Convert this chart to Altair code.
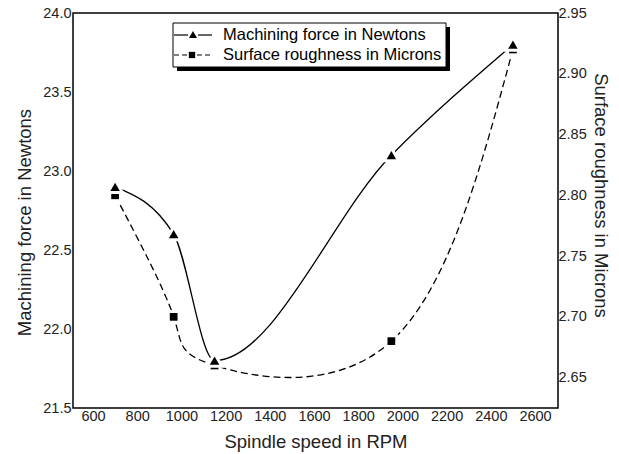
import altair as alt
import pandas as pd

# ---- data ----
rpm = [700, 965, 1150, 1950, 2500]
force = [22.9, 22.6, 21.8, 23.1, 23.8]
roughness = [2.80, 2.70, 2.66, 2.68, 2.92]

x_ticks = [600, 800, 1000, 1200, 1400, 1600, 1800, 2000, 2200, 2400, 2600]
force_ticks = [21.5, 22.0, 22.5, 23.0, 23.5, 24.0]
rough_ticks = [2.65, 2.70, 2.75, 2.80, 2.85, 2.90, 2.95]
series = ["Machining force in Newtons", "Surface roughness in Microns"]

df = pd.DataFrame({"rpm": rpm, "force": force, "roughness": roughness})
one = pd.DataFrame({"k": [0]})

FONT = "Liberation Sans"
W, H = 485, 395

x_enc = alt.X(
    "rpm:Q",
    scale=alt.Scale(domain=[509.5, 2704], nice=False, zero=False),
    axis=alt.Axis(values=x_ticks, format="d", title="Spindle speed in RPM",
                  labelPadding=1, titleY=39, titleBaseline="alphabetic"),
)

y_force = alt.Y(
    "force:Q",
    scale=alt.Scale(domain=[21.5, 24.0], nice=False, zero=False),
    axis=alt.Axis(values=force_ticks, format=".1f", orient="left",
                  title="Machining force in Newtons", labelPadding=2,
                  titleX=-43, titleY=209, titleAngle=270,
                  titleBaseline="alphabetic", titleAlign="center"),
)

y_rough = alt.Y(
    "roughness:Q",
    scale=alt.Scale(domain=[2.625, 2.95], nice=False, zero=False),
    axis=alt.Axis(values=rough_ticks, format=".2f", orient="right",
                  title="Surface roughness in Microns", labelPadding=0,
                  titleX=36, titleY=182, titleAngle=90,
                  titleBaseline="alphabetic", titleAlign="center"),
)

base = alt.Chart(df)

force_line = base.mark_line(interpolate="monotone", color="black", strokeWidth=1.3).encode(x=x_enc, y=y_force)
force_halo = base.mark_point(shape="triangle-up", filled=True, fill="white", stroke="white",
                             strokeWidth=6, size=90, opacity=1).encode(x=x_enc, y=y_force)
force_pts = base.mark_point(shape="triangle-up", filled=True, color="black",
                            size=90, opacity=1).encode(x=x_enc, y=y_force)

rough_line = base.mark_line(interpolate="natural", color="black", strokeWidth=1.3,
                            strokeDash=[7, 4]).encode(x=x_enc, y=y_rough)
rough_halo = base.mark_point(shape="square", filled=True, fill="white", stroke="white",
                             strokeWidth=6, size=60, opacity=1).encode(x=x_enc, y=y_rough)
rough_pts = base.mark_point(shape="square", filled=True, color="black",
                            size=60, opacity=1).encode(x=x_enc, y=y_rough)

force_layer = alt.layer(force_line, force_halo, force_pts)
rough_layer = alt.layer(rough_line, rough_halo, rough_pts)

# ---- legend box (decoration, pixel layout inside the plot area) ----
lg = alt.Chart(one)
shadow = lg.mark_rect(color="black").encode(
    x=alt.value(104), x2=alt.value(377), y=alt.value(14), y2=alt.value(58))
box = lg.mark_rect(fill="white", stroke="black", strokeWidth=1).encode(
    x=alt.value(100), x2=alt.value(373), y=alt.value(10), y2=alt.value(54))

r1a = lg.mark_rule(color="black", strokeWidth=1.2).encode(
    x=alt.value(101), x2=alt.value(115), y=alt.value(22))
r1b = lg.mark_rule(color="black", strokeWidth=1.2).encode(
    x=alt.value(125), x2=alt.value(139), y=alt.value(22))
m1 = lg.mark_point(shape="triangle-up", filled=True, color="black", size=64, opacity=1).encode(
    x=alt.value(120), y=alt.value(21.5))
t1 = lg.mark_text(align="left", baseline="middle", font=FONT, fontSize=16.5, color="black").encode(
    x=alt.value(150), y=alt.value(22), text=alt.value(series[0]))

r2a = lg.mark_rule(color="black", strokeWidth=1.2, strokeDash=[5, 3]).encode(
    x=alt.value(101), x2=alt.value(114), y=alt.value(42))
r2b = lg.mark_rule(color="black", strokeWidth=1.2, strokeDash=[5, 3]).encode(
    x=alt.value(124), x2=alt.value(137), y=alt.value(42))
m2 = lg.mark_point(shape="square", filled=True, color="black", size=40, opacity=1).encode(
    x=alt.value(119), y=alt.value(42))
t2 = lg.mark_text(align="left", baseline="middle", font=FONT, fontSize=16.5, color="black").encode(
    x=alt.value(150), y=alt.value(42), text=alt.value(series[1]))

legend = alt.layer(shadow, box, r1a, r1b, m1, t1, r2a, r2b, m2, t2)

chart = alt.layer(rough_layer, force_layer, legend).resolve_scale(
    y="independent"
).properties(
    width=W, height=H,
    autosize=alt.AutoSizeParams(type="none"),
    padding={"left": 65, "top": 5, "right": 53, "bottom": 44},
).configure_view(
    stroke="black", strokeWidth=1.5
).configure_axis(
    domain=False, ticks=False, tickSize=0, grid=False,
    labelFont=FONT, labelFontSize=14.5, labelColor="#222",
    titleFont=FONT, titleFontSize=18.5, titleFontWeight="normal", titleColor="#222",
)

chart.save("out.html", embed_options={"renderer": "svg", "actions": False})
